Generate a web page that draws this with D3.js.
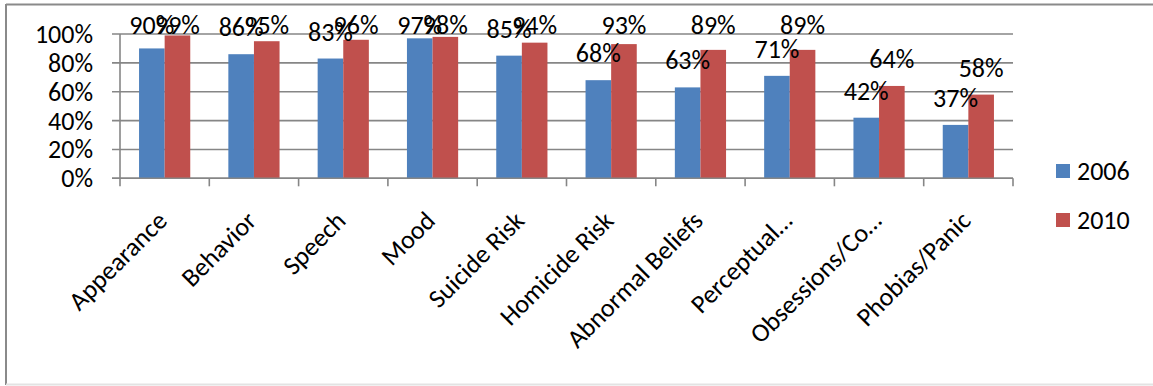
<!DOCTYPE html>
<html>
<head>
<meta charset="utf-8">
<script src="https://cdn.jsdelivr.net/npm/d3@7"></script>
<style>
  html, body { margin: 0; padding: 0; background: #ffffff; }
  svg { display: block; }
  text { font-family: Carlito, Calibri, Lato, "Open Sans", sans-serif; fill: #000; }
</style>
</head>
<body>
<svg id="chart" width="1153" height="386"></svg>
<script>
// Assessment areas documented, share of records per survey year
const categories = ["Appearance", "Behavior", "Speech", "Mood", "Suicide Risk",
  "Homicide Risk", "Abnormal Beliefs", "Perceptual\u2026", "Obsessions/Co\u2026", "Phobias/Panic"];
const seriesNames = ["2006", "2010"];
const values2006 = [0.90, 0.86, 0.83, 0.97, 0.85, 0.68, 0.63, 0.71, 0.42, 0.37];
const values2010 = [0.99, 0.95, 0.96, 0.98, 0.94, 0.93, 0.89, 0.89, 0.64, 0.58];
const yTicks = [0, 0.2, 0.4, 0.6, 0.8, 1.0];

const colors = { "2006": "#4F81BD", "2010": "#C0504D" };
const seriesValues = { "2006": values2006, "2010": values2010 };
const gridColor = "#868686";
const fontSize = 26;

const svg = d3.select("#chart");

// chart frame
svg.append("line").attr("x1", 6).attr("x2", 1153).attr("y1", 4.5).attr("y2", 4.5)
  .attr("stroke", "#8a8a8a").attr("stroke-width", 2);
svg.append("line").attr("x1", 6).attr("x2", 6).attr("y1", 4).attr("y2", 385)
  .attr("stroke", "#8a8a8a").attr("stroke-width", 2);
svg.append("line").attr("x1", 6).attr("x2", 1153).attr("y1", 384.5).attr("y2", 384.5)
  .attr("stroke", "#e3e3e3").attr("stroke-width", 2);

const plot = { left: 120, right: 1013, top: 34, bottom: 178.3 };

const slot = d3.scaleBand().domain(categories).range([plot.left, plot.right]);
const inner = d3.scaleBand().domain(seriesNames).range([0, slot.bandwidth()])
  .paddingInner(0).paddingOuter(0.744);
const y = d3.scaleLinear().domain([0, 1]).range([plot.bottom, plot.top]);

const pct = d3.format(".0%");

// gridlines + y tick marks
svg.append("g").selectAll("line").data(yTicks).join("line")
  .attr("x1", plot.left - 8).attr("x2", plot.right)
  .attr("y1", d => y(d)).attr("y2", d => y(d))
  .attr("stroke", gridColor).attr("stroke-width", 1.6);

// y tick labels
svg.append("g").selectAll("text").data(yTicks).join("text")
  .attr("x", 93).attr("y", d => y(d))
  .attr("text-anchor", "end").attr("dominant-baseline", "central")
  .style("font-size", fontSize + "px")
  .text(d => pct(d));

// y axis line
svg.append("line").attr("x1", plot.left).attr("x2", plot.left)
  .attr("y1", y(1)).attr("y2", y(0))
  .attr("stroke", gridColor).attr("stroke-width", 1.6);

// x axis ticks at category boundaries
const boundaries = categories.map(c => slot(c)).concat([plot.right]);
svg.append("g").selectAll("line").data(boundaries).join("line")
  .attr("x1", d => d).attr("x2", d => d)
  .attr("y1", y(0)).attr("y2", y(0) + 8)
  .attr("stroke", gridColor).attr("stroke-width", 1.6);

// bars
const barData = [];
categories.forEach((c, i) => {
  seriesNames.forEach(s => barData.push({ cat: c, series: s, value: seriesValues[s][i] }));
});

svg.append("g").selectAll("rect").data(barData).join("rect")
  .attr("x", d => slot(d.cat) + inner(d.series))
  .attr("width", inner.bandwidth())
  .attr("y", d => y(d.value))
  .attr("height", d => y(0) - y(d.value))
  .attr("fill", d => colors[d.series]);

// redraw the x axis baseline over the bars
svg.append("line").attr("x1", plot.left - 8).attr("x2", plot.right)
  .attr("y1", y(0)).attr("y2", y(0))
  .attr("stroke", gridColor).attr("stroke-width", 1.6);

// value labels above bars, kept inside the top of the chart
svg.append("g").selectAll("text").data(barData).join("text")
  .attr("x", d => slot(d.cat) + inner(d.series) + inner.bandwidth() / 2)
  .attr("y", d => Math.max(y(d.value) - 18, 34))
  .attr("text-anchor", "middle")
  .style("font-size", fontSize + "px")
  .text(d => pct(d.value));

// rotated category labels
svg.append("g").selectAll("text").data(categories).join("text")
  .attr("transform", c => `translate(${slot(c) + slot.bandwidth() / 2 + 4},${y(0) + 44}) rotate(-45)`)
  .attr("text-anchor", "end")
  .style("font-size", fontSize + "px")
  .text(c => c);

// legend
const legend = svg.append("g").selectAll("g").data(seriesNames).join("g")
  .attr("transform", (s, i) => `translate(1056,${164 + i * 49})`);
legend.append("rect").attr("width", 14).attr("height", 14)
  .attr("fill", s => colors[s]);
legend.append("text").attr("x", 21).attr("y", 7)
  .attr("dominant-baseline", "central")
  .style("font-size", fontSize + "px")
  .text(s => s);
</script>
</body>
</html>
